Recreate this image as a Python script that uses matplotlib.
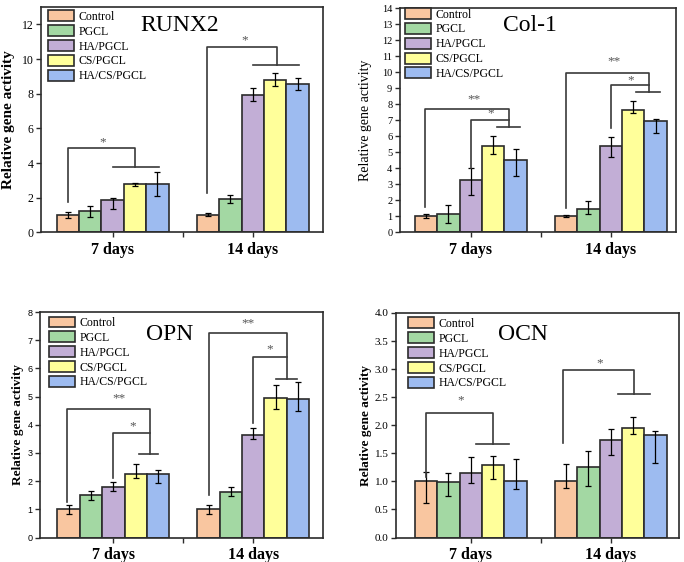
import numpy as np
import matplotlib
matplotlib.use('Agg')
import matplotlib.pyplot as plt
from matplotlib.ticker import MultipleLocator, FormatStrFormatter

plt.rcParams['font.family'] = ['Liberation Serif', 'DejaVu Serif']

groups = ['7 days', '14 days']
samples = ['Control', 'PGCL', 'HA/PGCL', 'CS/PGCL', 'HA/CS/PGCL']
colors = ['#F9C6A0', '#A3D8A3', '#C2AED6', '#FFFF9A', '#9DBBF0']

# rows: 7 days, 14 days ; low/high = ends of the error bars
runx2_mean = [[1.02, 1.25, 1.88, 2.78, 2.78], [1.02, 1.92, 7.95, 8.82, 8.58]]
runx2_low = [[0.85, 0.90, 1.36, 2.68, 2.10], [0.93, 1.70, 7.60, 8.45, 8.20]]
runx2_high = [[1.18, 1.55, 2.00, 2.88, 3.48], [1.10, 2.15, 8.32, 9.22, 8.92]]

col1_mean = [[1.02, 1.15, 3.28, 5.42, 4.52], [1.02, 1.48, 5.38, 7.67, 6.98]]
col1_low = [[0.88, 0.62, 2.35, 4.90, 3.55], [0.94, 1.18, 4.72, 7.47, 6.22]]
col1_high = [[1.15, 1.70, 4.00, 6.02, 5.18], [1.10, 1.95, 5.95, 8.18, 7.08]]

opn_mean = [[1.00, 1.50, 1.80, 2.25, 2.24], [1.00, 1.62, 3.62, 4.94, 4.92]]
opn_low = [[0.85, 1.33, 1.66, 2.12, 1.95], [0.85, 1.48, 3.48, 4.55, 4.50]]
opn_high = [[1.14, 1.66, 1.98, 2.62, 2.40], [1.17, 1.78, 3.87, 5.40, 5.50]]

ocn_mean = [[1.00, 0.98, 1.15, 1.29, 1.01], [1.00, 1.25, 1.74, 1.95, 1.82]]
ocn_low = [[0.62, 0.74, 0.97, 1.04, 0.87], [0.88, 0.92, 1.47, 1.84, 1.32]]
ocn_high = [[1.17, 1.15, 1.44, 1.45, 1.39], [1.31, 1.55, 1.94, 2.15, 1.90]]

# significance brackets: group, left x, left foot, top, right x, right foot,
# short bar (x0, x1) or None, label, label x, label y   (x relative to group centre)
runx2_sig = [(0, -0.32, 1.76, 4.87, 0.16, 3.77, (0.0, 0.33), '*', -0.07, 5.2),
             (1, -0.33, 2.3, 10.7, 0.17, 9.67, (0.0, 0.33), '*', -0.06, 11.1)]
col1_sig = [(0, -0.33, 1.6, 7.7, 0.27, 6.57, (0.19, 0.35), '**', 0.02, 8.3),
            (0, 0.0, 4.0, 7.0, 0.27, 7.0, None, '*', 0.14, 7.43),
            (1, -0.32, 1.5, 9.92, 0.27, 8.78, (0.18, 0.35), '**', 0.02, 10.65),
            (1, 0.0, 6.5, 9.2, 0.27, 9.2, None, '*', 0.14, 9.5)]
opn_sig = [(0, -0.33, 1.27, 4.56, 0.26, 2.95, (0.18, 0.32), '**', 0.04, 4.94),
           (0, 0.0, 2.1, 3.72, 0.26, 3.72, None, '*', 0.14, 3.93),
           (1, -0.32, 1.5, 7.25, 0.24, 5.64, (0.16, 0.31), '**', -0.04, 7.6),
           (1, 0.0, 4.05, 6.39, 0.24, 6.39, None, '*', 0.12, 6.66)]
ocn_sig = [(0, -0.32, 1.08, 2.21, 0.16, 1.66, (0.04, 0.27), '*', -0.07, 2.45),
           (1, -0.34, 1.69, 2.98, 0.17, 2.55, (0.05, 0.28), '*', -0.08, 3.1)]

panels = [
    dict(name='RUNX2', mean=runx2_mean, low=runx2_low, high=runx2_high, sig=runx2_sig,
         rect=[41/684, 1-232.5/562, 282/684, 225.5/562], xlim=(0.488, 2.502),
         ylim=13, ystep=2, fmt='%d', tsize=8.5, tfam=None, lsize=11, lweight='bold',
         lx=-0.092, title_xy=(0.493, 0.895), leg_xy=(0.025, 0.985)),
    dict(name='Col-1', mean=col1_mean, low=col1_low, high=col1_high, sig=col1_sig,
         rect=[400/684, 1-232.5/562, 276/684, 224.5/562], xlim=(0.495, 2.466),
         ylim=14, ystep=1, fmt='%d', tsize=7.5, tfam=None, lsize=10, lweight='normal',
         lx=-0.103, title_xy=(0.471, 0.899), leg_xy=(0.018, 1.0)),
    dict(name='OPN', mean=opn_mean, low=opn_low, high=opn_high, sig=opn_sig,
         rect=[40/684, 1-537.5/562, 283/684, 225.5/562], xlim=(0.476, 2.498),
         ylim=8, ystep=1, fmt='%d', tsize=6.5, tfam='Liberation Sans', lsize=9.5, lweight='bold',
         lx=-0.057, title_xy=(0.459, 0.876), leg_xy=(0.032, 0.98)),
    dict(name='OCN', mean=ocn_mean, low=ocn_low, high=ocn_high, sig=ocn_sig,
         rect=[396/684, 1-537.5/562, 283/684, 224.5/562], xlim=(0.466, 2.488),
         ylim=4, ystep=0.5, fmt='%.1f', tsize=8, tfam=None, lsize=9.5, lweight='bold',
         lx=-0.086, title_xy=(0.45, 0.88), leg_xy=(0.042, 0.98)),
]

EDGE = '#2b2b2b'
LINE = '#3a3a3a'
width = 0.16
centers = np.arange(len(groups)) + 1

fig = plt.figure(figsize=(6.84, 5.62), dpi=100)

for p in panels:
    ax = fig.add_axes(p['rect'])
    mean = np.array(p['mean'])
    low = np.array(p['low'])
    high = np.array(p['high'])
    for i, s in enumerate(samples):
        x = centers + (i - 2) * width
        yerr = [mean[:, i] - low[:, i], high[:, i] - mean[:, i]]
        ax.bar(x, mean[:, i], width, color=colors[i], edgecolor=EDGE, linewidth=1.2,
               label=s, yerr=yerr, capsize=2.0,
               error_kw=dict(ecolor='black', elinewidth=0.9, capthick=0.9))

    for g, xl, yl, yt, xr, yr, short, lab, tx, ty in p['sig']:
        c = centers[g]
        ax.plot([c + xl, c + xl, c + xr, c + xr], [yl, yt, yt, yr], color=LINE, lw=1.2)
        if short is not None:
            ax.plot([c + short[0], c + short[1]], [yr, yr], color=LINE, lw=1.2)
        ax.text(c + tx, ty, lab, ha='center', va='center', fontsize=9.5, color='#555555')

    ax.set_xlim(*p['xlim'])
    ax.set_ylim(0, p['ylim'])
    ax.set_xticks(centers)
    ax.set_xticklabels(groups, fontsize=11.5, fontweight='bold')
    ax.set_xticks([1.5], minor=True)
    ax.yaxis.set_major_locator(MultipleLocator(p['ystep']))
    ax.yaxis.set_major_formatter(FormatStrFormatter(p['fmt']))
    ax.tick_params(axis='both', which='both', direction='out', length=3.5, width=1, color=EDGE)
    ax.tick_params(axis='y', labelsize=p['tsize'], pad=2)
    if p['tfam']:
        for t in ax.get_yticklabels():
            t.set_family(p['tfam'])
    for sp in ax.spines.values():
        sp.set_linewidth(1.2)
        sp.set_color(EDGE)

    ax.set_ylabel('Relative gene activity', fontsize=p['lsize'], fontweight=p['lweight'])
    ax.yaxis.set_label_coords(p['lx'], 0.5)
    ax.text(p['title_xy'][0], p['title_xy'][1], p['name'], transform=ax.transAxes,
            ha='center', va='baseline', fontsize=17)
    ax.legend(loc='upper left', bbox_to_anchor=p['leg_xy'], frameon=False, fontsize=8.5,
              handlelength=2.2, handleheight=1.05, labelspacing=0.2, handletextpad=0.4,
              borderpad=0.0, borderaxespad=0.0)

fig.savefig('out.png', dpi=100)
